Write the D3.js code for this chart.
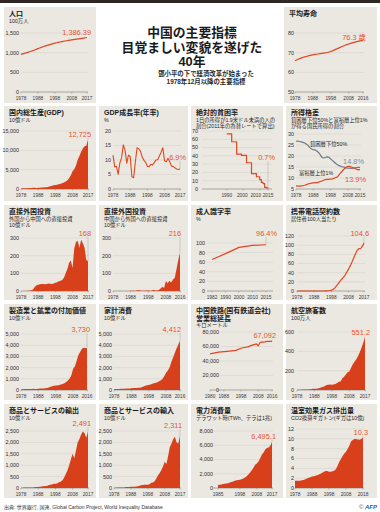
<!DOCTYPE html>
<html lang="ja"><head><meta charset="utf-8">
<script src="https://cdn.jsdelivr.net/npm/d3@7"></script>
<style>body{margin:0;background:#fff}svg{display:block}text{font-family:"Liberation Sans","Noto Sans CJK JP",sans-serif}</style>
</head><body><script>
// ---------------- DATA ----------------
const years78_17 = [1978,1979,1980,1981,1982,1983,1984,1985,1986,1987,1988,1989,1990,1991,1992,1993,1994,1995,1996,1997,1998,1999,2000,2001,2002,2003,2004,2005,2006,2007,2008,2009,2010,2011,2012,2013,2014,2015,2016,2017];
const years78_16 = [1978,1979,1980,1981,1982,1983,1984,1985,1986,1987,1988,1989,1990,1991,1992,1993,1994,1995,1996,1997,1998,1999,2000,2001,2002,2003,2004,2005,2006,2007,2008,2009,2010,2011,2012,2013,2014,2015,2016];
const years78_15 = [1978,1979,1980,1981,1982,1983,1984,1985,1986,1987,1988,1989,1990,1991,1992,1993,1994,1995,1996,1997,1998,1999,2000,2001,2002,2003,2004,2005,2006,2007,2008,2009,2010,2011,2012,2013,2014,2015];
const years78_18 = [1978,1979,1980,1981,1982,1983,1984,1985,1986,1987,1988,1989,1990,1991,1992,1993,1994,1995,1996,1997,1998,1999,2000,2001,2002,2003,2004,2005,2006,2007,2008,2009,2010,2011,2012,2013,2014,2015,2016,2017,2018];
const years85_17 = [1985,1986,1987,1988,1989,1990,1991,1992,1993,1994,1995,1996,1997,1998,1999,2000,2001,2002,2003,2004,2005,2006,2007,2008,2009,2010,2011,2012,2013,2014,2015,2016,2017];

const population = [956.2,969.0,981.2,993.9,1008.6,1023.3,1036.8,1051.0,1066.8,1084.0,1101.6,1118.7,1135.2,1150.8,1165.0,1178.4,1191.8,1204.9,1217.6,1230.1,1241.9,1252.7,1262.6,1271.9,1280.4,1288.4,1296.1,1303.7,1311.0,1317.9,1324.7,1331.3,1337.7,1344.1,1350.7,1357.4,1364.3,1371.2,1378.7,1386.39];
const lifeYears = [1978,1980,1982,1984,1986,1988,1990,1992,1994,1996,1998,2000,2002,2004,2006,2008,2010,2012,2014,2016];
const lifeExpectancy = [65.9,66.8,67.5,68.0,68.5,68.9,69.2,69.5,69.8,70.1,70.6,71.4,72.2,73.0,73.8,74.4,75.0,75.5,75.9,76.3];
const gdp = [149.5,178.3,191.1,195.9,205.1,230.7,259.9,309.5,300.8,273.0,312.4,347.8,360.9,383.4,426.9,444.7,564.3,734.5,863.7,961.6,1029.0,1094.0,1211.3,1339.4,1470.6,1660.3,1955.3,2286.0,2752.1,3552.2,4598.2,5110.0,6100.6,7572.6,8560.5,9607.2,10482.4,11064.7,11191.0,12725];
const gdpGrowth = [11.7,7.6,7.8,5.1,9.0,10.8,15.2,13.4,8.9,11.7,11.2,4.2,3.9,9.3,14.2,13.9,13.0,11.0,9.9,9.2,7.8,7.7,8.5,8.3,9.1,10.0,10.1,11.4,12.7,14.2,9.7,9.4,10.6,9.5,7.9,7.8,7.3,6.9,6.7,6.9];
const povertyYears = [1990,1993,1996,1999,2002,2005,2008,2010,2011,2012,2013,2014,2015];
const povertyRate = [66.6,57.0,42.0,40.5,31.7,18.5,14.8,11.2,7.9,6.5,1.9,1.4,0.7];
const bottom50Share = [26.7,26.8,26.6,26.4,26.2,25.9,25.4,24.8,23.8,23.2,22.9,22.8,22.3,21.6,20.6,19.4,19.1,19.3,19.6,19.4,18.7,18.0,17.3,16.6,16.0,15.6,15.3,15.0,14.9,14.6,14.5,14.5,14.4,14.5,14.6,14.7,14.8,14.8];
const top1Share = [6.4,6.3,6.3,6.4,6.5,6.7,7.0,7.3,7.5,7.7,7.8,7.9,7.9,8.1,8.4,8.6,9.0,9.3,9.4,9.4,9.5,9.6,9.9,10.2,10.5,11.5,12.5,13.4,14.2,14.9,15.3,15.3,15.0,14.6,14.3,14.0,13.7,13.9];
const fdiInflow = [0,0,0,0.5,1,2,4,8,22,33,36,38,40,39,38,40,42,41,40,43,46,50,55,58,62,75,100,125,160,172,130,240,278,285,245,290,270,245,175,168];
const fdiOutflow = [0,0,0,0,0.04,0.09,0.13,0.63,0.45,0.65,0.85,0.78,0.83,0.91,4.0,4.4,2.0,2.0,2.1,2.6,2.6,1.8,0.9,6.9,2.5,2.9,5.5,13.7,23.9,17.2,56.7,43.9,58.0,48.4,65.0,73.0,123.1,174.4,216.4];
const literacyYears = ["1982","1990","2000","2010","2015"];
const literacyRate = [65.5,77.8,90.9,95.1,96.4];
const mobileSubs = [0,0,0,0,0,0,0,0,0,0,0,0,0,0,0.02,0.05,0.13,0.3,0.56,1.07,1.89,3.4,6.7,11.2,15.9,20.8,25.7,29.8,34.8,41.2,47.8,55.3,63.2,72.1,80.8,88.3,92.3,92.2,97.3,104.6];
const manufacturing = [70,75,80,80,80,85,90,105,100,100,115,125,125,135,150,180,220,290,340,380,400,410,450,490,530,610,720,850,1030,1320,1900,2100,2600,3100,3400,3650,3780,3760,3730];
const household = [70,80,95,100,105,115,120,140,135,135,160,175,170,175,190,190,240,320,385,420,450,480,560,600,640,690,780,880,1010,1240,1550,1730,2000,2500,2900,3300,3700,4050,4412];
const railYears = [1980,1985,1990,1995,1998,2000,2002,2005,2007,2008,2009,2010,2011,2012,2013,2014,2015,2016];
const railKm = [49940,52119,53378,54616,57600,58656,59530,62200,63637,60809,65491,66239,66050,66298,66989,66989,67212,67092];
const airPassengers = [2.3,3.0,3.4,4.0,4.5,5.0,6.0,7.5,9.0,12.0,14.0,13.0,16.6,21.7,28.9,33.8,40.4,51.8,55.4,56.3,53.2,55.9,61.9,72.7,84.6,87.6,121.0,136.7,159.8,183.6,190.2,229.1,266.4,292.2,318.5,352.8,390.9,436.2,487.9,551.2];
const exportsGS = [10.6,14.0,19.0,22.0,22.3,22.2,26.1,27.4,31.0,39.4,47.5,52.5,62.1,71.8,84.9,91.8,121.0,147.2,151.2,182.7,183.6,194.9,253.1,272.1,333.0,443.5,599.1,772.4,982.5,1245.1,1500,1300,1650,2000,2150,2350,2480,2400,2200,2491];
const importsGS = [11.0,15.7,20.0,22.0,19.3,21.4,27.4,43.0,43.0,43.2,55.3,59.1,53.3,63.8,80.6,104.0,115.6,135.3,138.8,142.4,140.2,165.7,225.1,243.6,295.2,412.8,561.2,660.1,791.5,956.2,1150,1050,1400,1800,1950,2150,2250,2000,1950,2311];
const electricity = [411,446,497,545,585,621,680,756,839,926,1002,1076,1128,1160,1233,1347,1468,1642,1890,2170,2490,2859,3271,3454,3703,4193,4700,4976,5420,5630,5690,5920,6495.1];
const co2 = [1.46,1.49,1.47,1.45,1.56,1.64,1.79,1.95,2.06,2.20,2.36,2.41,2.48,2.60,2.73,2.92,3.10,3.32,3.46,3.47,3.32,3.32,3.41,3.53,3.80,4.50,5.27,5.91,6.53,7.01,7.37,7.98,8.62,9.51,9.78,9.96,9.97,9.85,9.80,9.97,10.29];

const ticks5 = [1978,1988,1998,2008,2017];
const ticks5b = [1978,1988,1998,2008,2016];

// ---------------- DRAW ----------------
const RED = "#d8401c", LINE = "#e2461f", LBL = "#e8532f", SLATE = "#6c7c88";
const svg = d3.select("body").append("svg").attr("width",380).attr("height",512);
svg.append("rect").attr("width",380).attr("height",512).attr("fill","#fff");
svg.append("rect").attr("x",0).attr("y",0).attr("width",380).attr("height",3).attr("fill","#2f2723");

const fmt = d3.format(",");

function fitText(t, maxW){
  const w = t.node().getComputedTextLength();
  if (w > maxW) t.attr("textLength", maxW).attr("lengthAdjust","spacingAndGlyphs");
}

function panel(o){
  const g = svg.append("g");
  const [bx,by,bw,bh] = o.box;
  g.append("rect").attr("x",bx).attr("y",by).attr("width",bw).attr("height",bh).attr("fill","#ebe8e2");
  let ty = by + 9.2;
  o.title.forEach((t,i)=>{
    const tt = g.append("text").attr("x",bx+5).attr("y",ty).attr("font-size",7).attr("font-weight",700).attr("fill","#1a1a1a").text(t);
    fitText(tt, bw-9);
    if(i<o.title.length-1) ty += 7.6;
  });
  ty += 0.2;
  (o.sub||[]).forEach(t=>{
    ty += 6.1;
    const st = g.append("text").attr("x",bx+5).attr("y",ty).attr("font-size",5.3).attr("fill","#1e1e1e").text(t);
    fitText(st, bw-11);
  });
  const x = o.x, y = o.y;
  const [xr0,xr1] = o.xExtent || x.range();
  const ymin = y.domain()[0];
  o.yTicks.forEach(v=>{
    const t = g.append("text").attr("x",o.yLabelX).attr("y",y(v)+1.9).attr("text-anchor","end")
      .attr("font-size",5.4).attr("fill","#2e2e2e").text((o.yFmt||fmt)(v));
    const bb = t.node().getBBox();
    const gx0 = (v===ymin && o.axisStart!==undefined) ? o.axisStart : Math.max(bb.x+bb.width+1.5, xr0);
    g.append("line").attr("x1", v===ymin ? Math.min(gx0, xr0) : gx0).attr("x2",xr1+1)
      .attr("y1",y(v)).attr("y2",y(v))
      .attr("stroke", v===ymin ? "#8a8580" : "#d2cdc5").attr("stroke-width", v===ymin?0.7:0.5);
  });
  o.xTicks.forEach((v,i)=>{
    const px = x(v);
    g.append("line").attr("x1",px).attr("x2",px).attr("y1",y(ymin)).attr("y2",y(ymin)+1.5).attr("stroke","#8a8580").attr("stroke-width",0.5);
    g.append("text").attr("x",px + ((o.xTickDx&&o.xTickDx[i])||0)).attr("y",y(ymin)+8).attr("text-anchor","middle")
      .attr("font-family","'Liberation Serif','DejaVu Serif',serif").attr("font-size",4.8).attr("fill","#3a3a3a").text(v);
  });
  o.series.forEach(s=>{
    const pts = s.xs.map((d,i)=>[d,s.ys[i]]);
    if(s.type==="area"){
      g.append("path").datum(pts).attr("fill",RED)
        .attr("d", d3.area().x(d=>x(d[0])).y0(y(ymin)).y1(d=>y(d[1])).curve(s.curve||d3.curveLinear));
    } else {
      g.append("path").datum(pts).attr("fill","none").attr("stroke",s.color||LINE).attr("stroke-width",s.width||1.2)
        .attr("stroke-linejoin","round")
        .attr("d", d3.line().x(d=>x(d[0])).y(d=>y(d[1])).curve(s.curve||d3.curveLinear));
    }
  });
  (o.labels||[]).forEach(l=>{
    if(l.line){
      const s = o.series[l.series||0];
      const lx = x(s.xs[s.xs.length-1]);
      const ly = y(s.ys[s.ys.length-1]);
      g.append("line").attr("x1",lx).attr("x2",lx).attr("y1",l.y+1.5).attr("y2",ly).attr("stroke","#a9a49c").attr("stroke-width",0.5);
    }
    g.append("text").attr("x",l.x).attr("y",l.y).attr("text-anchor",l.anchor||"end")
      .attr("font-size",l.size||7.4).attr("fill",l.color||LBL).text(l.text);
  });
  return g;
}

const lin = (d,r)=>d3.scaleLinear().domain(d).range(r);

// Row 1
panel({box:[4,7,92,96], title:["人口"], sub:["100万人"],
  x:lin([1978,2017],[21,87]), y:lin([0,1500],[92,33]), yTicks:[0,500,1000,1500], yLabelX:19, xTicks:ticks5,
  series:[{type:"line", xs:years78_17, ys:population}],
  labels:[{text:"1,386.39", x:91, y:34.8}]});
panel({box:[284,7,93,96], title:["平均寿命"],
  x:lin([1978,2016],[295,363]), y:lin([50,80],[92,33]), yTicks:[50,60,70,80], yLabelX:294, xTicks:[1978,1988,1998,2008,2016],
  series:[{type:"line", xs:lifeYears, ys:lifeExpectancy, curve:d3.curveMonotoneX}],
  labels:[{text:"76.3 歳", x:366, y:39.5}]});

// Row 2
panel({box:[4,106,92,95], title:["国内総生産(GDP)"], sub:["10億ドル"],
  x:lin([1978,2017],[21,88]), y:lin([0,15000],[189,131]), yTicks:[0,5000,10000,15000], yLabelX:19, xTicks:ticks5,
  series:[{type:"area", xs:years78_17, ys:gdp}],
  labels:[{text:"12,725", x:91, y:136.7, line:true}]});
panel({box:[99,106,89,95], title:["GDP成長率(年率)"], sub:["%"],
  x:lin([1978,2017],[113,180]), y:lin([0,20],[189,131]), yTicks:[0,5,10,15,20], yLabelX:111, xTicks:ticks5,
  series:[{type:"line", xs:years78_17, ys:gdpGrowth, width:1.1}],
  labels:[{text:"6.9%", x:186, y:159.7, line:true}]});
panel({box:[191,106,92,95], title:["絶対的貧困率"], sub:["1日の所得が1.9米ドル未満の人の","割合(2011年の為替レートで算出)"],
  x:lin([1975,2015],[202,268]), xExtent:[202,271], y:lin([0,70],[189,131]), yTicks:[0,10,20,30,40,50,60,70], yLabelX:198,
  xTicks:[1990,2000,2010,2015], xTickDx:[0,-1,-4,0], axisStart:202,
  series:[{type:"line", xs:povertyYears, ys:povertyRate, curve:d3.curveStepAfter}],
  labels:[{text:"0.7%", x:275, y:159.7, line:true}]});
panel({box:[286,106,91,95], title:["所得格差"], sub:["貧困層下位50%と富裕層上位1%","が得る国民所得の割合"],
  x:lin([1978,2015],[296,360]), y:lin([5,30],[189,134]), yTicks:[5,10,15,20,25,30], yLabelX:294, xTicks:[1978,1988,1998,2008,2015],
  series:[{type:"line", xs:years78_15, ys:bottom50Share, color:SLATE},{type:"line", xs:years78_15, ys:top1Share}],
  labels:[{text:"貧困層下位50%", x:310, y:146, anchor:"start", size:5.3, color:"#1e1e1e"},
          {text:"富裕層上位1%", x:299, y:175, anchor:"start", size:5.3, color:"#1e1e1e"},
          {text:"14.8%", x:364, y:163.5, color:"#7f8d97"},
          {text:"13.9%", x:366, y:181.5}]});

// Row 3
panel({box:[4,205,92,95], title:["直接外国投資"], sub:["外国から中国への直接投資","10億ドル"],
  x:lin([1978,2017],[21,88]), y:lin([0,300],[291,238]), yTicks:[0,100,200,300], yLabelX:19, xTicks:ticks5,
  series:[{type:"area", xs:years78_17, ys:fdiInflow}],
  labels:[{text:"168", x:91, y:235.7, line:true}]});
panel({box:[99,205,89,95], title:["直接外国投資"], sub:["中国から外国への直接投資","10億ドル"],
  x:lin([1978,2016],[113,180]), y:lin([0,300],[291,238]), yTicks:[0,100,200,300], yLabelX:111, xTicks:ticks5b,
  series:[{type:"area", xs:years78_16, ys:fdiOutflow}],
  labels:[{text:"216", x:181, y:235.7, line:true}]});
panel({box:[191,205,92,95], title:["成人識字率"], sub:["%"],
  x:d3.scalePoint().domain(literacyYears).range([212,266]), xExtent:[207,272], y:lin([0,100],[291,243]), yTicks:[0,20,40,60,80,100], yLabelX:205,
  xTicks:literacyYears,
  series:[{type:"line", xs:literacyYears, ys:literacyRate}],
  labels:[{text:"96.4%", x:277, y:235.7, line:true}]});
panel({box:[286,205,91,95], title:["携帯電話契約数"], sub:["居住者100人当たり"],
  x:lin([1978,2017],[297,364]), y:lin([0,120],[291,236]), yTicks:[0,20,40,60,80,100,120], yLabelX:294, xTicks:ticks5,
  series:[{type:"line", xs:years78_17, ys:mobileSubs}],
  labels:[{text:"104.6", x:369, y:235.7, line:true}]});

// Row 4
panel({box:[4,304,92,96], title:["製造業と鉱業の付加価値"], sub:["10億ドル"],
  x:lin([1978,2016],[21,87]), y:lin([0,5000],[390,334]), yTicks:[0,1000,2000,3000,4000,5000], yLabelX:19, xTicks:ticks5b,
  series:[{type:"area", xs:years78_16, ys:manufacturing}],
  labels:[{text:"3,730", x:90, y:331.7, line:true}]});
panel({box:[99,304,89,96], title:["家計消費"], sub:["10億ドル"],
  x:lin([1978,2016],[114,180]), y:lin([0,5000],[390,334]), yTicks:[0,1000,2000,3000,4000,5000], yLabelX:112, xTicks:ticks5b,
  series:[{type:"area", xs:years78_16, ys:household}],
  labels:[{text:"4,412", x:181, y:331.7, line:true}]});
panel({box:[191,304,92,96], title:["中国鉄路(国有鉄道会社)","営業総延長"], sub:["キロメートル"],
  x:lin([1980,2016],[210,272]), y:lin([0,80000],[390,332]), yTicks:[0,20000,40000,60000,80000], yLabelX:219, xTicks:[1980,1988,1998,2008,2016],
  series:[{type:"line", xs:railYears, ys:railKm}],
  labels:[{text:"67,092", x:276, y:337.7, line:true}]});
panel({box:[286,304,91,96], title:["航空旅客数"], sub:["100万人"],
  x:lin([1978,2017],[297,365]), y:lin([0,600],[390,332]), yTicks:[0,200,400,600], yLabelX:294, xTicks:ticks5,
  series:[{type:"area", xs:years78_17, ys:airPassengers}],
  labels:[{text:"551.2", x:370, y:334.7, line:true}]});

// Row 5
panel({box:[4,404,92,94], title:["商品とサービスの輸出"], sub:["10億ドル"],
  x:lin([1978,2017],[21,88]), y:lin([0,2500],[488,431]), yTicks:[0,500,1000,1500,2000,2500], yLabelX:19, xTicks:ticks5,
  series:[{type:"area", xs:years78_17, ys:exportsGS}],
  labels:[{text:"2,491", x:91, y:425.7, line:true}]});
panel({box:[99,404,89,94], title:["商品とサービスの輸入"], sub:["10億ドル"],
  x:lin([1978,2017],[114,180]), y:lin([0,2500],[488,431]), yTicks:[0,500,1000,1500,2000,2500], yLabelX:112, xTicks:ticks5,
  series:[{type:"area", xs:years78_17, ys:importsGS}],
  labels:[{text:"2,311", x:182, y:427.7, line:true}]});
panel({box:[191,404,92,94], title:["電力消費量"], sub:["テラワット時(TWh、テラは1兆)"],
  x:lin([1985,2017],[218,272]), xExtent:[213,272], axisStart:213, y:lin([0,8000],[488,431]), yTicks:[0,2000,4000,6000,8000], yLabelX:213,
  xTicks:[1985,1998,2008,2017],
  series:[{type:"area", xs:years85_17, ys:electricity}],
  labels:[{text:"6,495.1", x:276, y:438.7, line:true}]});
panel({box:[286,404,91,94], title:["温室効果ガス排出量"], sub:["CO2換算ギガトン(ギガは10億)"],
  x:lin([1978,2018],[295,363]), y:lin([0,12],[488,429]), yTicks:[0,2,4,6,8,10,12], yLabelX:294, xTicks:[1978,1988,1998,2008,2018],
  series:[{type:"area", xs:years78_18, ys:co2}],
  labels:[{text:"10.3", x:368, y:434.7, line:true}]});

// Title block
const titleLines = ["中国の主要指標","目覚ましい変貌を遂げた","40年"];
titleLines.forEach((t,i)=>svg.append("text").attr("x",192).attr("y",37+i*14.5).attr("text-anchor","middle")
  .attr("font-size",12.8).attr("font-weight",700).attr("fill","#1a1a1a").text(t));
const subLines = ["鄧小平の下で経済改革が始まった","1978年12月以降の主要指標"];
subLines.forEach((t,i)=>svg.append("text").attr("x",206).attr("y",75.5+i*8.3).attr("text-anchor","middle")
  .attr("font-size",6.4).attr("font-weight",700).attr("fill","#2a2a2a").text(t));

// Footer
svg.append("text").attr("x",4).attr("y",508.5).attr("font-size",5).attr("fill","#333")
  .text("出典: 世界銀行, 国連, Global Carbon Project, World Inequality Database");
const afp = svg.append("text").attr("x",377).attr("y",508.5).attr("text-anchor","end").attr("font-size",6);
afp.append("tspan").attr("fill","#555").text("© ");
afp.append("tspan").attr("fill","#1f5fa8").attr("font-weight",700).attr("font-style","italic").text("AFP");
</script></body></html>
